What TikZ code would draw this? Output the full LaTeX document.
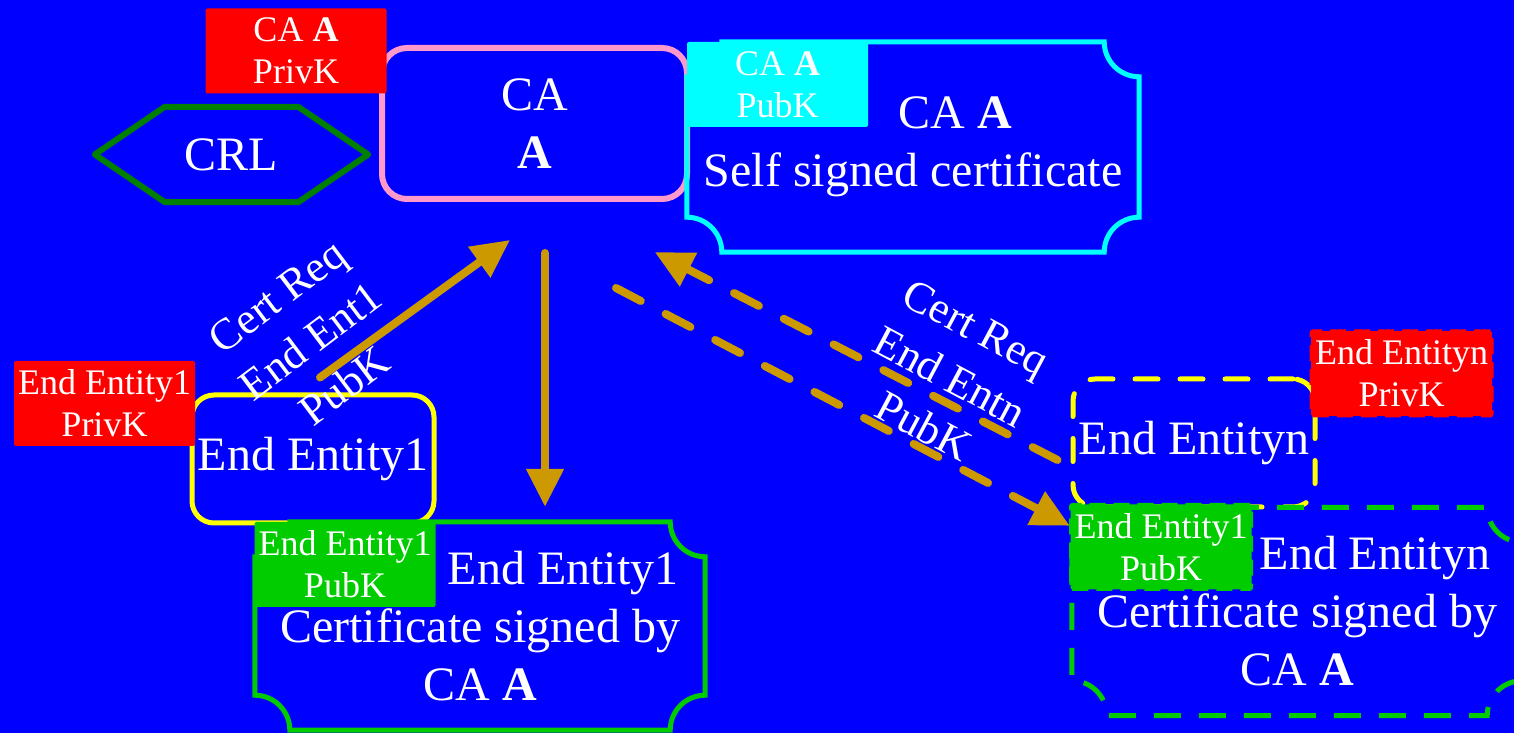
\documentclass[tikz,border=0pt]{standalone}
\usepackage{fontspec}
\setmainfont{Liberation Serif}
\usetikzlibrary{positioning,arrows.meta,calc,backgrounds}
\definecolor{slideblue}{HTML}{0000FF}
\definecolor{capink}{HTML}{FF99CC}
\definecolor{crlgreen}{HTML}{008000}
\definecolor{certgreen}{HTML}{00CC00}
\definecolor{keycyan}{HTML}{00FFFF}
\definecolor{keyred}{HTML}{FF0000}
\definecolor{flowgold}{HTML}{CC9900}
\definecolor{boxyellow}{HTML}{FFFF00}
\pgfsetlayers{background,main}
\newcommand{\bigtext}{\fontsize{48}{58}\selectfont}
\newcommand{\keytext}{\fontsize{36}{42}\selectfont}
\newcommand{\reqtext}{\fontsize{44}{56}\selectfont}
% certificate outline with cut-in corners, drawn round a node
\newcommand{\certframe}[2]{%
  \draw[#2] ([yshift=-35pt]#1.north west) arc[start angle=-90,end angle=0,radius=35pt]
    -- ([xshift=-35pt]#1.north east) arc[start angle=180,end angle=270,radius=35pt]
    -- ([yshift=35pt]#1.south east) arc[start angle=90,end angle=180,radius=35pt]
    -- ([xshift=35pt]#1.south west) arc[start angle=0,end angle=90,radius=35pt]
    -- cycle;}
\tikzset{
  keybox/.style={fill=#1, rounded corners=2pt, minimum width=181pt, minimum height=85pt, font=\keytext},
  dashkey/.style={keybox=#1, draw=#1, line width=3pt, dash pattern=on 16pt off 8pt},
  caframe/.style={draw=capink, line width=6pt, rounded corners=25pt},
  eeframe/.style={draw=boxyellow, line width=5pt, rounded corners=22pt, minimum width=242pt, minimum height=128pt, font=\bigtext},
  eedash/.style={eeframe, dash pattern=on 23pt off 22pt, line cap=round},
  certbody/.style={minimum width=450pt, minimum height=208pt, font=\bigtext},
  certline/.style={draw=#1, line width=5pt},
  certdash/.style={certline=#1, dash pattern=on 27pt off 18pt},
  crlline/.style={draw=crlgreen, line width=6pt, line join=round},
  flow/.style={draw=flowgold, line width=8pt, line cap=round, -{Triangle[length=38pt,width=36pt]}},
  flowdash/.style={flow, dash pattern=on 28pt off 28pt}
}
\begin{document}
\begin{tikzpicture}[x=1pt, y=1pt, every node/.style={text=white, inner sep=0pt, align=center}]
  \useasboundingbox (0,0) rectangle (1514,733);
  \begin{pgfonlayer}{background}
    \fill[slideblue] (0,0) rectangle (1514,733);
  \end{pgfonlayer}

  % CA side
  \node[caframe, minimum width=305pt, minimum height=151pt, font=\bigtext] (ca) at (534.5,609.5) {CA\\\textbf{A}};
  \node[keybox=keyred] (capriv) at (296,682) {CA \textbf{A}\\PrivK};
  \node[minimum width=273pt, minimum height=95pt, font=\bigtext] (crl) at (231.5,578.5) {CRL};
  \draw[crlline] (crl.west) -- ([xshift=70pt]crl.north west) -- ([xshift=-70pt]crl.north east)
    -- (crl.east) -- ([xshift=-70pt]crl.south east) -- ([xshift=70pt]crl.south west) -- cycle;
  \node[certbody, minimum width=452pt, minimum height=210pt] (selfcert) at (913,586)
    {\hspace*{84pt}CA \textbf{A}\\Self signed certificate};
  \certframe{selfcert}{certline=keycyan}
  \node[keybox=keycyan] (capub) at (777.5,648.5) {CA \textbf{A}\\PubK};

  % end entity 1
  \node[eeframe] (ee1) at (313,274) {End Entity1};
  \node[keybox=keyred] (ee1priv) at (104.5,329.5) {End Entity1\\PrivK};
  \node[certbody] (cert1) at (480,107) {\hspace*{166pt}End Entity1\\Certificate signed by\\CA \textbf{A}};
  \certframe{cert1}{certline=certgreen}
  \node[keybox=certgreen] (ee1pub) at (345,168.5) {End Entity1\\PubK};

  % end entity n
  \node[eedash] (een) at (1194,290) {End Entityn};
  \node[dashkey=keyred] (eenpriv) at (1401.5,359.5) {End Entityn\\PrivK};
  \node[certbody] (certn) at (1297,121.5) {\hspace*{156pt}End Entityn\\Certificate signed by\\CA \textbf{A}};
  \certframe{certn}{certdash=certgreen}
  \node[dashkey=certgreen] (eenpub) at (1161,186) {End Entity1\\PubK};

  % requests
  \node[font=\reqtext, rotate=37] (req1) at (311,392) {Cert Req\\End Ent1\\PubK};
  \node[font=\reqtext, rotate=-28] (reqn) at (950,356) {Cert Req\\End Entn\\PubK};

  \coordinate (ee1out) at ($(ee1.north)+(7,15)$);
  \coordinate (cain) at ($(ca.south)+(-24.5,-38)$);
  \coordinate (caout) at ($(ca.south)+(10.5,-51)$);
  \coordinate (cert1in) at ($(cert1.north)+(65,15)$);
  \coordinate (eenout) at ($(een.west)+(-13,-17)$);
  \coordinate (cainn) at ($(selfcert.south west)+(-32,0)$);
  \coordinate (caoutn) at ($(ca.south east)+(-74,-86)$);
  \coordinate (certnin) at ($(certn.north west)+(-2,-18.5)$);
  \begin{pgfonlayer}{background}
    \draw[flow] (ee1out) -- (cain);
    \draw[flow] (caout) -- (cert1in);
    \draw[flowdash] (eenout) -- (cainn);
    \draw[flowdash] (caoutn) -- (certnin);
  \end{pgfonlayer}
\end{tikzpicture}
\end{document}
